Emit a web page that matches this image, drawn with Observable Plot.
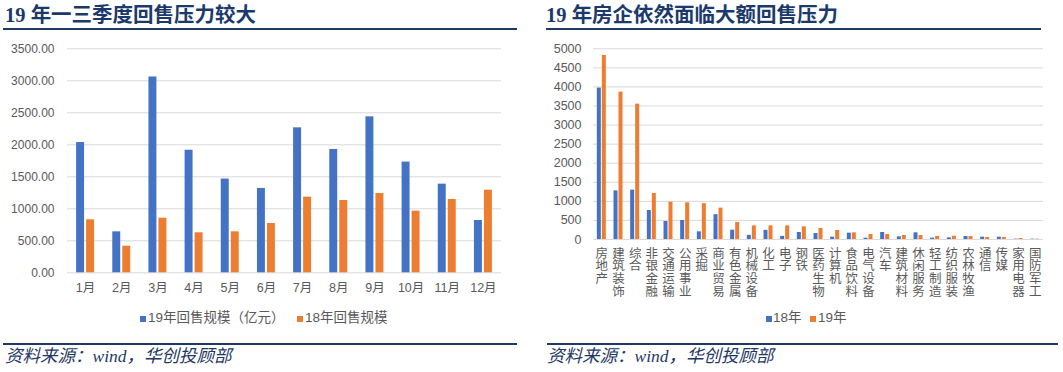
<!DOCTYPE html>
<html>
<head>
<meta charset="utf-8">
<script src="https://cdn.jsdelivr.net/npm/d3@7"></script>
<script src="https://cdn.jsdelivr.net/npm/@observablehq/plot@0.6"></script>
<style>
  html, body { margin: 0; padding: 0; background: #fff; }
  #root { position: relative; width: 1063px; height: 372px; overflow: hidden; background: #fff; }
  .title { position: absolute; top: 4px; font-family: "Liberation Serif", "Noto Sans CJK SC", serif; font-weight: bold; font-size: 20.5px; line-height: 1.1; color: #1B3A6B; white-space: nowrap; }
  .rule { position: absolute; height: 2px; background: #1F3864; }
  .source { position: absolute; top: 347px; font-family: "Liberation Serif", "Noto Sans CJK SC", serif; font-style: italic; font-size: 17.5px; line-height: 1.1; color: #1F3864; white-space: nowrap; }
  .plot { position: absolute; top: 35px; }
  .legend { position: absolute; top: 309px; font-family: "Liberation Sans", "Noto Sans CJK SC", sans-serif; font-size: 13.5px; line-height: 18px; color: #595959; white-space: nowrap; }
  .legend span.sw { position: absolute; top: 7px; width: 6px; height: 6px; }
  .legend span.lb { position: absolute; top: 0; }
</style>
</head>
<body>
<div id="root">
  <div class="title" style="left:5px">19 年一三季度回售压力较大</div>
  <div class="rule" style="left:3px; width:514px; top:28px"></div>
  <div class="title" style="left:546px">19 年房企依然面临大额回售压力</div>
  <div class="rule" style="left:546px; width:495px; top:28px"></div>
  <div id="left" class="plot" style="left:0px"></div>
  <div id="right" class="plot" style="left:540px"></div>
  <div class="legend" style="left:0px">
    <span class="sw" style="left:140px; background:#4472C4"></span><span class="lb" style="left:148px">19年回售规模（亿元）</span>
    <span class="sw" style="left:297px; background:#ED7D31"></span><span class="lb" style="left:305px">18年回售规模</span>
  </div>
  <div class="legend" style="left:540px">
    <span class="sw" style="left:226px; background:#4472C4"></span><span class="lb" style="left:233px">18年</span>
    <span class="sw" style="left:270px; background:#ED7D31"></span><span class="lb" style="left:278px">19年</span>
  </div>
  <div class="rule" style="left:3px; width:514px; top:343px"></div>
  <div class="rule" style="left:547px; width:511px; top:343px"></div>
  <div class="source" style="left:5px">资料来源：wind，华创投顾部</div>
  <div class="source" style="left:547px">资料来源：wind，华创投顾部</div>
</div>
<script>
// ---- Left chart data ----
const months = ["1月","2月","3月","4月","5月","6月","7月","8月","9月","10月","11月","12月"];
const sales19 = [2035, 640, 3060, 1915, 1465, 1318, 2265, 1927, 2437, 1730, 1385, 817];
const sales18 = [828, 415, 853, 625, 640, 770, 1182, 1130, 1239, 963, 1146, 1291];
const leftTicks = [0, 500, 1000, 1500, 2000, 2500, 3000, 3500];

// ---- Right chart data ----
const industries = ["房地产","建筑装饰","综合","非银金融","交通运输","公用事业","采掘","商业贸易","有色金属","机械设备","化工","电子","钢铁","医药生物","计算机","食品饮料","电气设备","汽车","建筑材料","休闲服务","轻工制造","纺织服装","农林牧渔","通信","传媒","家用电器","国防军工"];
const put18 = [3970, 1275, 1294, 760, 472, 498, 201, 650, 245, 108, 240, 82, 184, 157, 61, 166, 35, 184, 70, 175, 35, 44, 79, 61, 61, 9, 9];
const put19 = [4825, 3864, 3549, 1206, 979, 962, 940, 822, 446, 358, 358, 358, 332, 288, 236, 175, 131, 131, 105, 105, 79, 87, 79, 52, 52, 26, 9];
const rightTicks = [0, 500, 1000, 1500, 2000, 2500, 3000, 3500, 4000, 4500, 5000];

const BLUE = "#4472C4", ORANGE = "#ED7D31", GRID = "#D9D9D9", TXT = "#595959";
const fontStyle = {fontFamily: "'Liberation Sans', 'Noto Sans CJK SC', sans-serif", fontSize: "12px", color: TXT, background: "transparent"};

const monthData = months.map((m, i) => ({month: m, v19: sales19[i], v18: sales18[i]}));
const leftPlot = Plot.plot({
  width: 520, height: 265,
  marginLeft: 67, marginRight: 19, marginTop: 13.3, marginBottom: 27.7,
  style: fontStyle,
  x: {domain: months, paddingInner: 0.78, paddingOuter: 0.39, round: false, label: null},
  y: {domain: [0, 3500], label: null},
  marks: [
    Plot.gridY(leftTicks, {stroke: GRID, strokeOpacity: 1}),
    Plot.axisY(leftTicks, {tickFormat: d => d.toFixed(2), tickSize: 0, tickPadding: 13, label: null, fill: TXT}),
    Plot.axisX({tickSize: 0, tickPadding: 10, label: null, fontSize: 12.5, fill: TXT}),
    Plot.barY(monthData, {x: "month", y: "v19", fill: BLUE, dx: -5}),
    Plot.barY(monthData, {x: "month", y: "v18", fill: ORANGE, dx: 5})
  ]
});
document.getElementById("left").append(leftPlot);

const indData = industries.map((n, i) => ({name: n, v18: put18[i], v19: put19[i]}));
const rightPlot = Plot.plot({
  width: 523, height: 265,
  marginLeft: 53, marginRight: 20, marginTop: 13.3, marginBottom: 61,
  style: fontStyle,
  x: {domain: industries, paddingInner: 0.76, paddingOuter: 0.38, round: false, label: null, axis: null},
  y: {domain: [0, 5000], label: null},
  marks: [
    Plot.gridY(rightTicks, {stroke: GRID, strokeOpacity: 1}),
    Plot.axisY(rightTicks, {tickFormat: d => String(d), tickSize: 0, tickPadding: 12, label: null, fontSize: 12.5, fill: TXT}),
    Plot.barY(indData, {x: "name", y: "v18", fill: BLUE, dx: -2.5}),
    Plot.barY(indData, {x: "name", y: "v19", fill: ORANGE, dx: 2.5}),
    Plot.text(industries, {x: d => d, text: d => Array.from(d).join("\n"), frameAnchor: "bottom", lineAnchor: "top", dy: 9, lineHeight: 1.02, fontSize: 12.5, fill: TXT})
  ]
});
document.getElementById("right").append(rightPlot);
</script>
</body>
</html>
